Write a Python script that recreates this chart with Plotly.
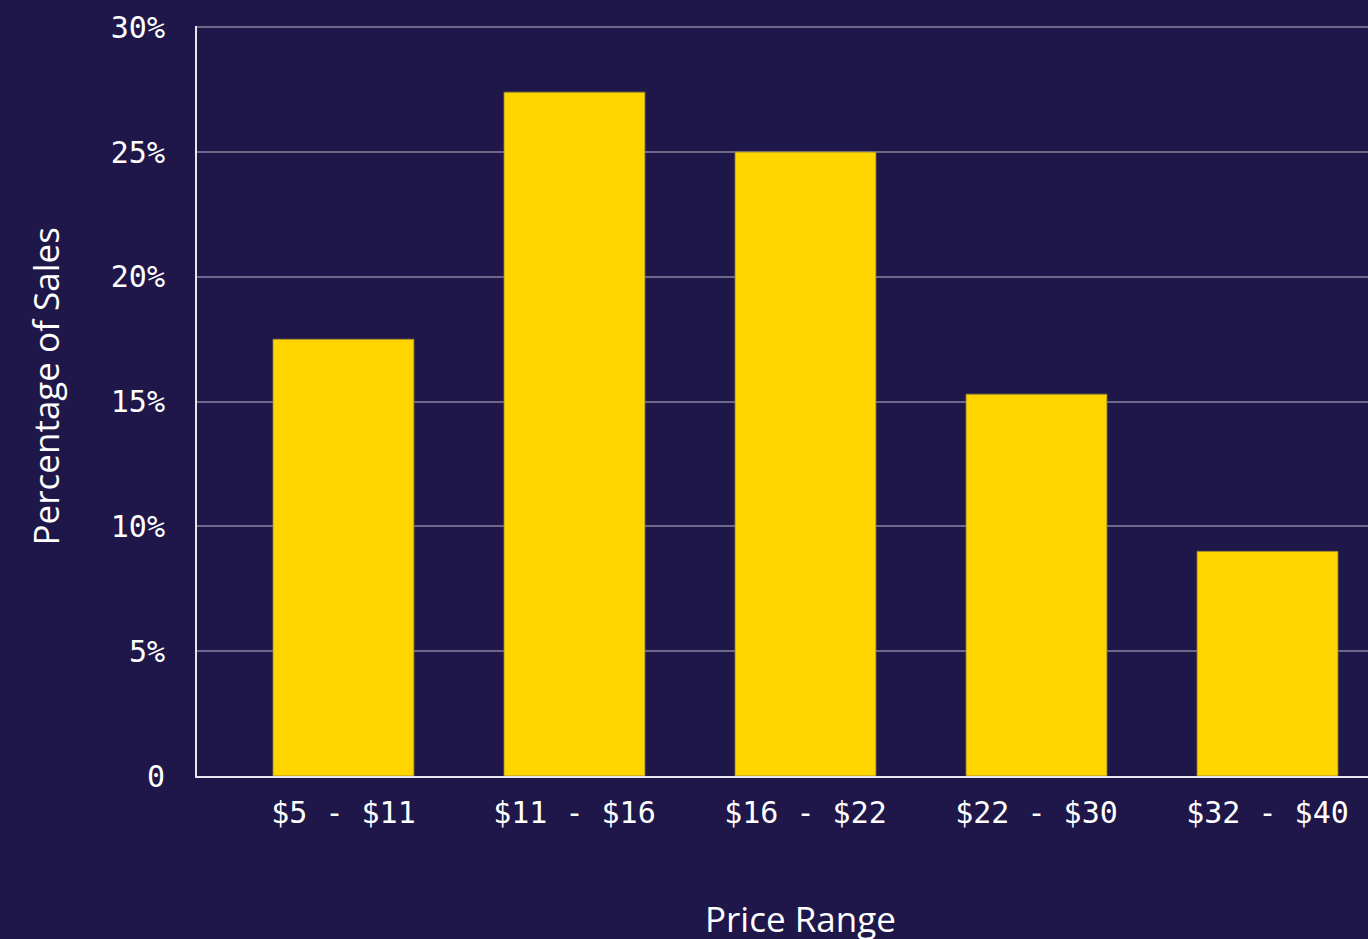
import plotly.graph_objects as go

categories = ["$5 - $11", "$11 - $16", "$16 - $22", "$22 - $30", "$32 - $40"]
percent_sales = [17.5, 27.4, 25.0, 15.3, 9.0]
y_tickvals = [0, 5, 10, 15, 20, 25, 30]
y_ticktext = ["0", "5%", "10%", "15%", "20%", "25%", "30%"]

BG = "#1F1749"
BAR = "#FFD500"
MONO = "DejaVu Sans Mono"
SANS = "Open Sans"

fig = go.Figure(
    go.Bar(
        x=categories,
        y=percent_sales,
        marker=dict(color=BAR, line=dict(color="rgba(150,130,60,0.8)", width=1)),
        width=0.61,
    )
)

fig.update_layout(
    width=1368,
    height=939,
    paper_bgcolor=BG,
    plot_bgcolor=BG,
    margin=dict(l=197, r=0, t=26, b=163),
    showlegend=False,
    font=dict(family=MONO, color="#FFFFFF"),
)

fig.update_xaxes(
    range=[-0.634, 4.435],
    showgrid=False,
    showline=True,
    linecolor="#E6E6EE",
    linewidth=2,
    tickfont=dict(family=MONO, size=30, color="#FFFFFF"),
    ticks="outside",
    ticklen=9,
    tickcolor="rgba(0,0,0,0)",
)

fig.update_yaxes(
    range=[0, 30.05],
    tickvals=y_tickvals,
    ticktext=y_ticktext,
    showgrid=True,
    gridcolor="rgba(255,255,255,0.35)",
    gridwidth=1.5,
    showline=True,
    linecolor="#E6E6EE",
    linewidth=2,
    zeroline=False,
    tickfont=dict(family=MONO, size=30, color="#FFFFFF"),
    ticks="outside",
    ticklen=24,
    tickcolor="rgba(0,0,0,0)",
)

fig.add_annotation(
    text="Price Range",
    xref="paper", yref="paper",
    x=(800 - 197) / (1368 - 197), y=-(918 - 776) / (776 - 27),
    xanchor="center", yanchor="middle",
    showarrow=False,
    font=dict(family=SANS, size=35, color="#FFFFFF"),
)
fig.add_annotation(
    text="Percentage of Sales",
    xref="paper", yref="paper",
    x=-(197 - 45) / (1368 - 197), y=(776 - 387) / (776 - 27),
    xanchor="center", yanchor="middle",
    textangle=-90,
    showarrow=False,
    font=dict(family=SANS, size=35, color="#FFFFFF"),
)

fig.write_html(
    "out.html",
    config={"displayModeBar": False},
    post_script="document.body.style.margin='0';document.body.style.overflow='hidden';",
)
